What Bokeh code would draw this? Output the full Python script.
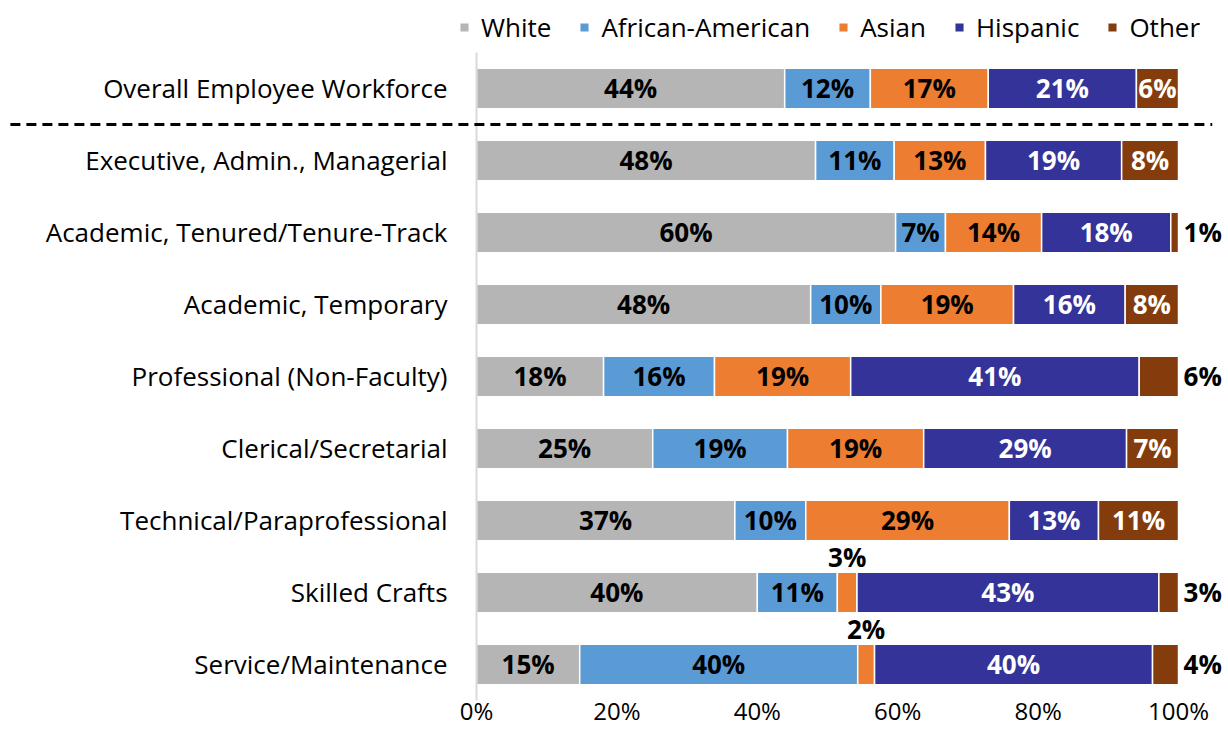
from bokeh.plotting import figure
from bokeh.models import ColumnDataSource, Range1d, Legend, LegendItem, FixedTicker, CustomJSTickFormatter
from bokeh.embed import file_html
from bokeh.resources import INLINE
from bokeh.core.properties import value

categories = ["Overall Employee Workforce", "Executive, Admin., Managerial",
              "Academic, Tenured/Tenure-Track", "Academic, Temporary",
              "Professional (Non-Faculty)", "Clerical/Secretarial",
              "Technical/Paraprofessional", "Skilled Crafts", "Service/Maintenance"]
series = ["White", "African-American", "Asian", "Hispanic", "Other"]
white = [43.9, 48.3, 59.7, 47.6, 18.1, 25.1, 36.8, 40.0, 14.7]
african_american = [12.2, 11.2, 7.1, 10.0, 15.8, 19.2, 10.1, 11.4, 39.6]
asian = [16.8, 13.0, 13.7, 18.9, 19.4, 19.4, 29.0, 2.8, 2.4]
hispanic = [21.1, 19.4, 18.4, 15.9, 41.1, 28.9, 12.7, 43.0, 39.6]
other = [6.0, 8.1, 1.1, 7.6, 5.6, 7.4, 11.4, 2.8, 3.7]
x_ticks = [0, 20, 40, 60, 80, 100]

colors = ["#B4B5B4", "#5B9BD5", "#ED7D31", "#333399", "#843C0C"]
inside_text = ["#000000", "#000000", "#000000", "#FFFFFF", "#FFFFFF"]
# labels drawn outside the bar: (row, series) -> "right" or "above"
outside = {(2, 4): "right", (4, 4): "right", (7, 2): "above", (7, 4): "right",
           (8, 2): "above", (8, 4): "right"}

FONT = "Open Sans"
n = len(categories)
ypos = [n - 1 - i for i in range(n)]
cols = {"White": white, "African-American": african_american, "Asian": asian,
        "Hispanic": hispanic, "Other": other}
src = ColumnDataSource(dict(y=ypos, **cols))

p = figure(width=1228, height=751, output_backend="svg", toolbar_location=None,
           x_range=Range1d(-67.81, 107.12), y_range=Range1d(-0.5, n - 0.5 + 0.722),
           min_border_left=0, min_border_right=0, min_border_top=0, min_border_bottom=51)
p.outline_line_color = None
p.grid.visible = False
p.yaxis.visible = False

renderers = p.hbar_stack(series, y="y", height=0.56, color=colors, source=src,
                         line_color="white", line_width=1.5)

# vertical axis line at 0
p.segment(x0=[0], y0=[-0.5], x1=[0], y1=[n - 0.5], line_color="#D9D9D9", line_width=2)
# dashed separator between the overall row and the rest
p.segment(x0=[-66.4], y0=[n - 1.5], x1=[104.8], y1=[n - 1.5], line_color="black",
          line_width=3, line_dash="10 6")

# category labels
p.text(x=[0] * n, y=ypos, text=categories, x_offset=-29, text_align="right",
       text_baseline="middle", text_font=value(FONT), text_font_size="26px",
       text_color="#000000")

# value labels
lx, ly, lt, lc, la, lyo, lxo = [], [], [], [], [], [], []
for i in range(n):
    cum = 0.0
    for j, s in enumerate(series):
        v = cols[s][i]
        mid = cum + v / 2
        cum += v
        mode = outside.get((i, j), "in")
        if mode == "in":
            lx.append(mid); lc.append(inside_text[j]); la.append("center"); lyo.append(0); lxo.append(0)
        elif mode == "right":
            lx.append(100); lc.append("#000000"); la.append("left"); lyo.append(0); lxo.append(5)
        else:
            lx.append(mid); lc.append("#000000"); la.append("center"); lyo.append(-35); lxo.append(0)
        ly.append(ypos[i])
        lt.append(f"{round(v):.0f}%")
lsrc = ColumnDataSource(dict(x=lx, y=ly, t=lt, c=lc, a=la, yo=lyo, xo=lxo))
p.text(x="x", y="y", text="t", text_color="c", text_align="a", x_offset="xo", y_offset="yo",
       text_baseline="middle", text_font=value(FONT), text_font_style="bold",
       text_font_size="26px", source=lsrc)

# x axis
p.xaxis.ticker = FixedTicker(ticks=x_ticks)
p.xaxis.formatter = CustomJSTickFormatter(code="return tick + '%';")
p.xaxis.axis_line_color = None
p.xaxis.major_tick_line_color = None
p.xaxis.minor_tick_line_color = None
p.xaxis.major_tick_out = 0
p.xaxis.major_tick_in = 0
p.xaxis.major_label_standoff = -7
p.xaxis.major_label_text_font = FONT
p.xaxis.major_label_text_font_size = "24px"
p.xaxis.major_label_text_color = "#000000"

legend = Legend(items=[LegendItem(label=s, renderers=[r]) for s, r in zip(series, renderers)],
                orientation="horizontal",
                label_text_font=FONT, label_text_font_size="26px", label_text_color="#000000",
                glyph_width=12, glyph_height=12, label_standoff=11, spacing=27,
                padding=0, margin=0, border_line_color=None, background_fill_alpha=0)
p.add_layout(legend)
legend.location = (458, 700 - 45)

open("out.html", "w").write(file_html(p, INLINE))
